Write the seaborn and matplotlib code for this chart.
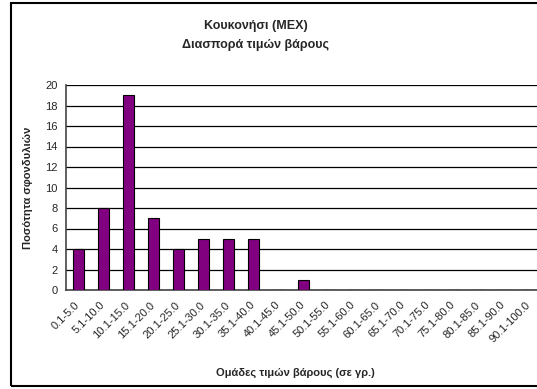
import matplotlib
matplotlib.use("Agg")
import matplotlib.pyplot as plt
import seaborn as sns
import pandas as pd
from matplotlib.patches import Rectangle

# weight classes (grams) and vertebra counts
weight_classes = ["0.1-5.0", "5.1-10.0", "10.1-15.0", "15.1-20.0", "20.1-25.0",
                  "25.1-30.0", "30.1-35.0", "35.1-40.0", "40.1-45.0", "45.1-50.0",
                  "50.1-55.0", "55.1-60.0", "60.1-65.0", "65.1-70.0", "70.1-75.0",
                  "75.1-80.0", "80.1-85.0", "85.1-90.0", "90.1-100.0"]
counts = [4, 8, 19, 7, 4, 5, 5, 5, 0, 1, 0, 0, 0, 0, 0, 0, 0, 0, 0]
y_ticks = list(range(0, 21, 2))

df = pd.DataFrame({"cls": weight_classes, "n": counts})

sns.set_style("white")
plt.rcParams['font.family'] = ['Liberation Sans', 'DejaVu Sans']

fig = plt.figure(figsize=(5.37, 3.89), dpi=100)
W, H = 537, 389
# axes placed in pixel terms; the right side runs past the image edge like the original
ax = fig.add_axes([66 / W, (H - 290) / H, 475 / W, 205 / H])

sns.barplot(data=df, x="cls", y="n", ax=ax, color="#800080", width=0.46,
            edgecolor="black", linewidth=0.8, saturation=1, zorder=3)

ax.set_xlim(-0.5, len(weight_classes) - 0.5)
ax.set_ylim(0, 20)
ax.set_yticks(y_ticks)
ax.set_yticklabels([str(v) for v in y_ticks], fontsize=8)

# labels sit just left of category centres, tick marks at category boundaries
n_cls = len(weight_classes)
ax.set_xticks([i - 0.15 for i in range(n_cls)])
ax.set_xticklabels(weight_classes, rotation=45, ha="right", rotation_mode="anchor",
                   fontsize=8)
ax.set_xticks([i - 0.5 for i in range(n_cls + 1)], minor=True)
ax.tick_params(axis="x", which="major", length=0, pad=7)
ax.tick_params(axis="x", which="minor", length=4, width=0.8, color="#444444", direction="out")
ax.tick_params(axis="y", length=4, width=0.8, color="#444444", direction="out", pad=2)

ax.yaxis.grid(True, color="black", linewidth=0.9, zorder=0)
ax.set_axisbelow(True)
for side in ["top", "right"]:
    ax.spines[side].set_visible(False)
for side in ["left", "bottom"]:
    ax.spines[side].set_color("#444444")
    ax.spines[side].set_linewidth(1.2)

ax.set_xlabel("Ομάδες τιμών βάρους (σε γρ.)", fontsize=8, fontweight="bold")
ax.set_ylabel("Ποσότητα σφονδυλιών", fontsize=8, fontweight="bold")
ax.xaxis.set_label_coords((295 - 66) / 475, -(368 - 290) / 205)
ax.yaxis.set_label_coords(-(66 - 33) / 475, 0.5)

fig.text(256 / W, 1 - 26 / H, "Κουκονήσι (MEX)", ha="center", va="center",
         fontsize=9, fontweight="bold")
fig.text(256 / W, 1 - 45 / H, "Διασπορά τιμών βάρους", ha="center", va="center",
         fontsize=9, fontweight="bold")

# outer chart frame
fig.patches.append(Rectangle((11 / W, 3 / H), 1.2, (386 - 3) / H,
                             transform=fig.transFigure, fill=False,
                             edgecolor="black", linewidth=1.5))

fig.savefig("out.png", dpi=100)
